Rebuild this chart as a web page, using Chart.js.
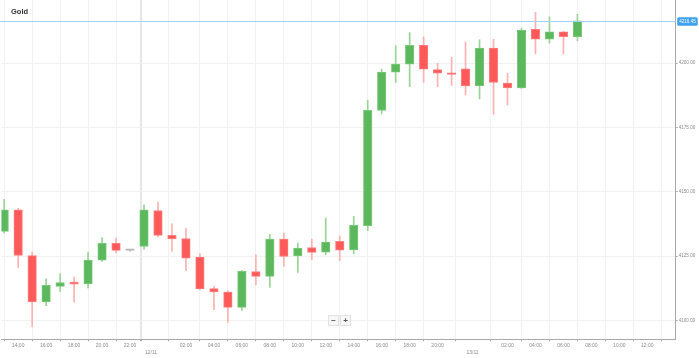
<!DOCTYPE html>
<html>
<head>
<meta charset="utf-8">
<script src="https://cdn.jsdelivr.net/npm/chart.js@4.4.1/dist/chart.umd.min.js"></script>
<style>
  html, body { margin: 0; padding: 0; background: #ffffff; }
  #wrap { position: relative; width: 699px; height: 358px; overflow: hidden; }
  #title { position: absolute; left: 11px; top: 6.5px; font: bold 7.5px Arial, "Liberation Sans", sans-serif; color: #333; }
  #zoom { position: absolute; left: 328px; top: 315px; display: flex; gap: 1px; }
  #zoom span { display: block; width: 9px; height: 9px; line-height: 9px; text-align: center; font: bold 8px Arial, "Liberation Sans", sans-serif; color: #555; background: #f7f7f7; border: 0.5px solid #e2e2e2; }
</style>
</head>
<body>
<div id="wrap">
  <canvas id="c" width="699" height="358"></canvas>
  <div id="title">Gold</div>
  <div id="zoom"><span>−</span><span>+</span></div>
</div>
<script>
// Candle times (ordinal axis: one slot per candle)
const times = [
  '11/11 13:00','11/11 14:00','11/11 15:00','11/11 16:00','11/11 17:00','11/11 18:00','11/11 19:00',
  '11/11 20:00','11/11 21:00','11/11 22:00','11/11 23:00','12/11 00:00','12/11 01:00','12/11 02:00',
  '12/11 03:00','12/11 04:00','12/11 05:00','12/11 06:00','12/11 07:00','12/11 08:00','12/11 09:00',
  '12/11 10:00','12/11 11:00','12/11 12:00','12/11 13:00','12/11 14:00','12/11 15:00','12/11 16:00',
  '12/11 17:00','12/11 18:00','12/11 19:00','12/11 20:00','12/11 21:00','12/11 22:00','13/11 00:00',
  '13/11 01:00','13/11 02:00','13/11 03:00','13/11 04:00','13/11 05:00','13/11 06:00','13/11 07:00'
];
const opens  = [4134.6,4143.0,4125.2,4107.1,4113.2,4114.9,4114.1,4123.4,4129.9,4127.2,4128.7,4142.7,4133.0,4131.8,
                4124.6,4112.3,4111.0,4105.0,4118.9,4117.1,4131.6,4125.0,4128.3,4126.5,4130.7,4127.4,4136.8,4181.6,
                4196.5,4199.6,4207.0,4197.5,4196.3,4197.8,4191.2,4205.9,4192.3,4190.4,4213.2,4209.4,4212.2,4210.3];
const highs  = [4147.1,4143.6,4126.5,4116.1,4118.1,4116.8,4126.5,4132.2,4132.0,4127.6,4144.9,4146.0,4137.5,4135.9,
                4125.9,4113.2,4111.6,4119.3,4125.5,4133.3,4133.9,4130.0,4131.6,4139.8,4132.8,4140.4,4185.7,4197.7,
                4206.8,4211.9,4210.3,4200.0,4202.3,4208.2,4209.1,4209.3,4196.1,4213.7,4219.8,4218.1,4212.4,4219.0];
const lows   = [4134.0,4120.6,4097.6,4105.7,4111.2,4107.0,4112.6,4122.9,4126.2,4126.8,4127.7,4132.4,4126.8,4119.3,
                4112.0,4104.1,4099.2,4103.8,4113.8,4112.8,4121.0,4118.6,4123.6,4125.5,4123.2,4125.8,4134.9,4180.3,
                4192.5,4190.9,4192.5,4190.9,4191.4,4187.7,4186.1,4180.1,4183.8,4190.2,4203.6,4207.8,4203.6,4208.7];
const closes = [4143.0,4125.2,4107.1,4113.6,4114.7,4114.0,4123.4,4129.9,4127.2,4127.2,4143.0,4133.0,4131.7,4124.2,
                4112.2,4111.0,4105.0,4119.0,4117.1,4131.6,4124.8,4128.1,4126.4,4130.4,4127.3,4136.9,4181.7,4196.6,
                4199.7,4207.0,4197.7,4196.1,4195.6,4191.2,4205.9,4192.5,4190.4,4212.9,4209.4,4212.2,4210.3,4216.45];

// X axis tick labels and their slots
const tickSlots  = [1,3,5,7,9,10.5,13,15,17,19,21,23,25,27,29,31,33.5,36,38,40,42,44,46];
const tickLabels = ['14:00','16:00','18:00','20:00','22:00','12/11','02:00','04:00','06:00','08:00','10:00','12:00',
                    '14:00','16:00','18:00','20:00','13/11','02:00','04:00','06:00','08:00','10:00','12:00'];
const dayTicks = ['12/11','13/11'];
// Y axis tick values
const yTicks = [4100, 4125, 4150, 4175, 4200];
const currentPrice = closes[closes.length - 1];

const slots = times.map((t, i) => i);
const dir = opens.map((o, i) => closes[i] > o ? 1 : (closes[i] < o ? -1 : 0));
const bodyFill   = dir.map(d => d > 0 ? '#5cb85c' : d < 0 ? '#ff5a5a' : '#a8a8a8');
const bodyBorder = dir.map(d => d > 0 ? '#79c979' : d < 0 ? '#ff7d7d' : '#b8b8b8');
const wickFill   = dir.map(d => d > 0 ? '#98d398' : d < 0 ? '#ffb0b0' : '#c8c8c8');

const priceLine = {
  id: 'priceLine',
  afterDatasetsDraw(chart) {
    const { ctx, chartArea, scales } = chart;
    const y = Math.round(scales.y.getPixelForValue(currentPrice)) + 0.5;
    ctx.save();
    ctx.strokeStyle = '#9fd2f5';
    ctx.lineWidth = 1;
    ctx.beginPath();
    ctx.moveTo(0, y);
    ctx.lineTo(chartArea.right, y);
    ctx.stroke();
    const bx = chartArea.right + 1.5, bw = 20.5, bh = 8.5;
    ctx.fillStyle = '#3fa2ec';
    ctx.beginPath();
    ctx.roundRect(bx, y - bh / 2, bw, bh, 1.5);
    ctx.fill();
    ctx.fillStyle = '#ffffff';
    ctx.font = '4.6px Arial, "Liberation Sans", sans-serif';
    ctx.textAlign = 'center';
    ctx.textBaseline = 'middle';
    ctx.fillText(currentPrice.toFixed(2), bx + bw / 2, y + 0.3);
    ctx.restore();
  }
};

new Chart(document.getElementById('c'), {
  type: 'bar',
  data: {
    datasets: [
      {
        label: 'wick',
        data: slots.map((s, i) => ({ x: s, y: [lows[i], highs[i]] })),
        backgroundColor: wickFill,
        barThickness: 1,
        grouped: false,
        order: 2
      },
      {
        label: 'body',
        data: slots.map((s, i) => ({ x: s, y: [opens[i], closes[i]] })),
        backgroundColor: bodyFill,
        borderColor: bodyBorder,
        borderWidth: 1,
        borderSkipped: false,
        barThickness: 8.5,
        minBarLength: 1.5,
        grouped: false,
        order: 1
      }
    ]
  },
  options: {
    responsive: false,
    animation: false,
    layout: { padding: { left: 1.5, top: 0, right: 0, bottom: 0 } },
    plugins: { legend: { display: false }, tooltip: { enabled: false }, title: { display: false } },
    scales: {
      x: {
        type: 'linear',
        min: -0.193,
        max: 48.03,
        offset: false,
        afterBuildTicks(scale) { scale.ticks = tickSlots.map(v => ({ value: v })); },
        afterFit(scale) { scale.height = 18.7; },
        ticks: {
          autoSkip: false,
          maxRotation: 0,
          padding: 1.5,
          color: '#8a8a8a',
          font: { size: 5, family: 'Arial, "Liberation Sans", sans-serif', lineHeight: 1.3 },
          callback(value) {
            const i = tickSlots.indexOf(value);
            const lab = i >= 0 ? tickLabels[i] : '';
            return dayTicks.includes(lab) ? ['', lab] : lab;
          }
        },
        grid: {
          color(ctx) { return ctx.tick && ctx.tick.value === 10.5 ? '#e6e6e6' : '#f1f1f1'; },
          lineWidth(ctx) { return ctx.tick && ctx.tick.value === 10.5 ? 2 : 1; },
          tickColor: '#b0b0b0',
          tickLength: 2
        },
        border: { color: '#a8a8a8', width: 1 }
      },
      y: {
        position: 'right',
        min: 4092.6,
        max: 4224.6,
        afterBuildTicks(scale) { scale.ticks = yTicks.map(v => ({ value: v })); },
        afterFit(scale) { scale.width = 23.3; scale.paddingTop = 0; scale.paddingBottom = 0; },
        ticks: {
          padding: 1,
          color: '#8a8a8a',
          font: { size: 4.6, family: 'Arial, "Liberation Sans", sans-serif' },
          callback(value) { return Number(value).toFixed(2); }
        },
        grid: { color: '#f1f1f1', tickColor: '#b0b0b0', tickLength: 2 },
        border: { color: '#a8a8a8', width: 1 }
      }
    }
  },
  plugins: [priceLine]
});
</script>
</body>
</html>
